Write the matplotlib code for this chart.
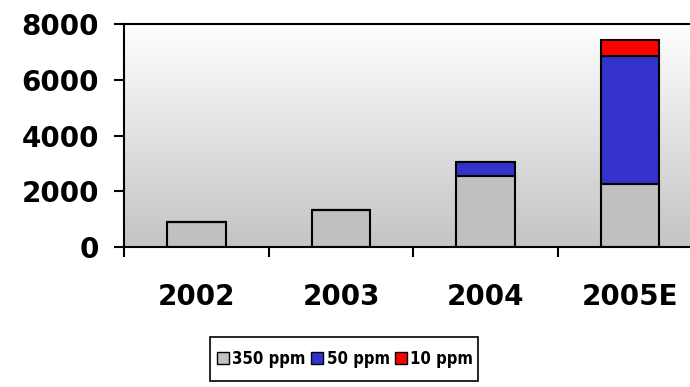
import numpy as np
import matplotlib
matplotlib.use("Agg")
import matplotlib.pyplot as plt
from matplotlib import font_manager
from matplotlib.colors import LinearSegmentedColormap
from matplotlib.patches import Rectangle

# data
years = ["2002", "2003", "2004", "2005E"]
ppm350 = [880, 1310, 2530, 2250]
ppm50 = [0, 0, 510, 4610]
ppm10 = [0, 0, 0, 580]
series_names = ["350 ppm", "50 ppm", "10 ppm"]
series_colors = ["#C0C0C0", "#3333CC", "#FF0000"]
y_ticks = [0, 2000, 4000, 6000, 8000]

plt.rcParams['font.family'] = ['DejaVu Sans']
plt.rcParams['font.weight'] = 'bold'


def narrow_font(size):
    """Pick a condensed bold face if one is installed."""
    for fam, stretch in [('DejaVu Sans', 'condensed'), ('Liberation Sans Narrow', 'normal')]:
        fp = font_manager.FontProperties(family=fam, weight='bold', stretch=stretch, size=size)
        path = font_manager.findfont(fp, fallback_to_default=False)
        if 'Condensed' in path or 'Narrow' in path:
            return fp
    return font_manager.FontProperties(family='DejaVu Sans', weight='bold', size=size * 0.88)


fig = plt.figure(figsize=(6.9, 3.87), dpi=100)
ax = fig.add_axes([0.1804, 0.3625, 0.8371, 0.5742])

# gradient background: white at top to gray at bottom
grad = np.linspace(0, 1, 256).reshape(-1, 1)
cmap = LinearSegmentedColormap.from_list("bg", ["#FFFFFF", "#C4C4C4"])
ax.imshow(grad, extent=[0, 1, 0, 1], transform=ax.transAxes,
          aspect='auto', cmap=cmap, zorder=0, interpolation='bilinear')

x = np.arange(1, len(years) + 1)
bottom = np.zeros(len(years))
for vals, name, col in zip([ppm350, ppm50, ppm10], series_names, series_colors):
    vals = np.array(vals, dtype=float)
    ax.bar(x, vals, width=0.405, bottom=bottom, color=col,
           edgecolor='black', linewidth=1.5, label=name, zorder=2)
    bottom += vals

ax.set_xlim(0.5, 4.5)
ax.set_ylim(0, 8000)
ax.set_yticks(y_ticks)
ax.set_yticklabels([str(t) for t in y_ticks], fontsize=20, fontweight='bold')

# category boundaries as major ticks, labels on minor ticks
ax.set_xticks([0.5, 1.5, 2.5, 3.5, 4.5])
ax.set_xticklabels([])
ax.set_xticks(x, minor=True)
ax.set_xticklabels(years, minor=True, fontsize=20, fontweight='bold')
ax.tick_params(axis='x', which='major', direction='out', length=7.5, width=1.5)
ax.tick_params(axis='x', which='minor', length=0, pad=26)
ax.tick_params(axis='y', direction='out', length=7.5, width=1.5, pad=11)

for side in ['left', 'top', 'bottom', 'right']:
    ax.spines[side].set_linewidth(1.5)
    ax.spines[side].set_color('black')

# legend centred under the figure, with a plain box drawn around it
handles, labels = ax.get_legend_handles_labels()
leg = fig.legend(handles, labels, loc='center', ncol=3,
                 bbox_to_anchor=(0.5, 0.0724), frameon=False,
                 prop=narrow_font(12),
                 handlelength=0.75, handleheight=0.75, handletextpad=0.2,
                 columnspacing=0.3, borderpad=0, borderaxespad=0)
for p in leg.get_patches():
    p.set_linewidth(1.0)
fig.patches.append(Rectangle((0.3043, 0.0155), 0.3884, 0.1137,
                             transform=fig.transFigure, fill=False,
                             edgecolor='black', linewidth=1.2))

fig.savefig("out.png", dpi=100)
